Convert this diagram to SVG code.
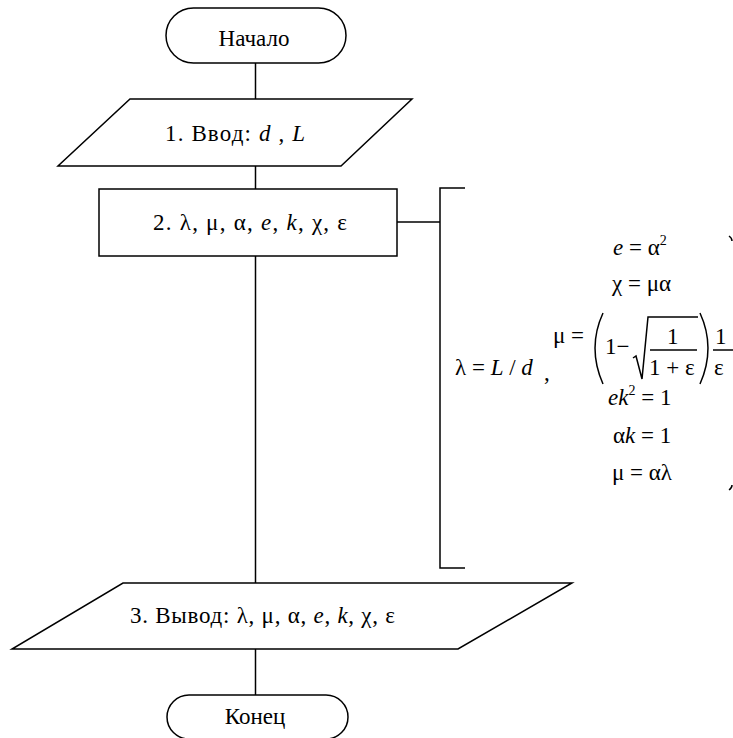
<svg xmlns="http://www.w3.org/2000/svg" width="733" height="738" viewBox="0 0 733 738">
<style>
.s{fill:#fff;stroke:#000;stroke-width:1.5}
.l{fill:none;stroke:#000;stroke-width:1.5}
text{font-family:'Liberation Serif','Times New Roman',serif;font-size:23px;fill:#000}
.i{font-style:italic}
.sup{font-size:14px}
</style>
<rect width="733" height="738" fill="#fff"/>
<g id="connectors">
<line class="l" x1="255.5" y1="63" x2="255.5" y2="99"/>
<line class="l" x1="255.5" y1="166" x2="255.5" y2="189"/>
<line class="l" x1="255.5" y1="256" x2="255.5" y2="583"/>
<line class="l" x1="255.5" y1="649" x2="255.5" y2="695"/>
<line class="l" x1="397" y1="222" x2="440" y2="222"/>
<path class="l" d="M465,188 H440 V568 H465"/>
</g>
<g id="start">
<rect class="s" x="166" y="8" width="180" height="55" rx="27.5"/>
<text x="254" y="46" text-anchor="middle">Начало</text>
</g>
<g id="input">
<polygon class="s" points="130,99 412,99 341,166 58,166"/>
<text x="165" y="141" textLength="140" lengthAdjust="spacing">1. Ввод:  <tspan class="i">d</tspan> , <tspan class="i">L</tspan></text>
</g>
<g id="process">
<rect class="s" x="99" y="189" width="298" height="67"/>
<text x="153" y="230" textLength="194" lengthAdjust="spacing">2.  λ, μ, α, <tspan class="i">e</tspan>, <tspan class="i">k</tspan>, χ, ε</text>
</g>
<g id="output">
<polygon class="s" points="123,583 572,583 458,649 12,649"/>
<text x="130" y="623" textLength="265" lengthAdjust="spacing">3. Вывод:  λ, μ, α, <tspan class="i">e</tspan>, <tspan class="i">k</tspan>, χ, ε</text>
</g>
<g id="end">
<rect class="s" x="167" y="695" width="181" height="44" rx="22"/>
<text x="255" y="724" text-anchor="middle">Конец</text>
</g>
<g id="formulas">
<text x="613" y="255"><tspan class="i">e</tspan> = α<tspan class="sup" dy="-10">2</tspan></text>
<text x="612" y="291">χ = μα</text>
<text x="455" y="375">λ = <tspan class="i">L</tspan> / <tspan class="i">d</tspan></text>
<text x="544" y="380">,</text>
<text x="553" y="343">μ =</text>
<path class="l" stroke-width="1.2" d="M603,313 Q587,348 603,384"/>
<text x="605" y="354">1−</text>
<path class="l" stroke-width="1.2" d="M633,358 L636,356 L642,379 L648,317 H698"/>
<line class="l" stroke-width="1" x1="650" y1="350" x2="697" y2="350"/>
<text x="667" y="344">1</text>
<text x="649" y="375">1 + ε</text>
<path class="l" stroke-width="1.2" d="M700,313 Q716,348 700,384"/>
<line class="l" stroke-width="1" x1="713" y1="350" x2="733" y2="350"/>
<text x="715" y="344">1</text>
<text x="714" y="375">ε</text>
<text x="608" y="405"><tspan class="i">ek</tspan><tspan class="sup" dy="-10">2</tspan><tspan dy="10"> = 1</tspan></text>
<text x="613" y="443">α<tspan class="i">k</tspan> = 1</text>
<text x="612" y="480">μ = αλ</text>
<path class="l" stroke-width="1" d="M729,236 Q732,238 732,241"/>
<path class="l" stroke-width="1" d="M732,485 Q732,488 729,490"/>
</g>
</svg>
